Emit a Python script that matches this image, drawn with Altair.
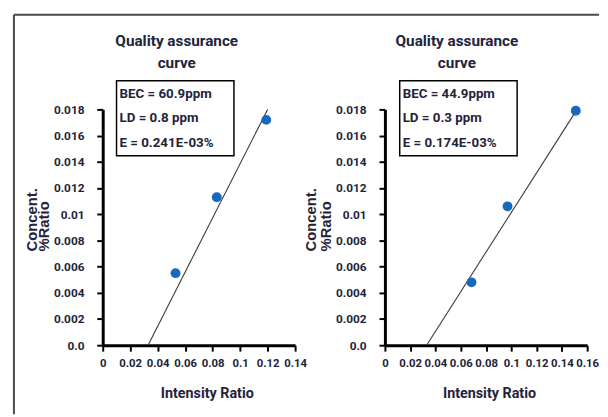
import altair as alt
import pandas as pd

# ---- data ----
left_x = [0.053, 0.083, 0.119]
left_y = [0.0055, 0.0113, 0.0172]
left_fit_x = [0.033, 0.120]
left_fit_y = [0.0, 0.018]

right_x = [0.0685, 0.097, 0.151]
right_y = [0.0048, 0.0106, 0.0179]
right_fit_x = [0.033, 0.152]
right_fit_y = [0.0, 0.018]

y_ticks = [0.0, 0.002, 0.004, 0.006, 0.008, 0.010, 0.012, 0.014, 0.016, 0.018]
left_x_ticks = [0.0, 0.02, 0.04, 0.06, 0.08, 0.10, 0.12, 0.14]
right_x_ticks = [0.0, 0.02, 0.04, 0.06, 0.08, 0.10, 0.12, 0.14, 0.16]

title_lines = ["Quality assurance", "curve"]
left_box = ["BEC = 60.9ppm", "LD = 0.8 ppm", "E = 0.241E-03%"]
right_box = ["BEC = 44.9ppm", "LD = 0.3 ppm", "E = 0.174E-03%"]
y_title = ["Concent.", "%Ratio"]
x_title = "Intensity Ratio"

# ---- styling ----
COND = "Roboto, Liberation Sans, sans-serif"
REG = "Liberation Sans, Arial, sans-serif"
TXT = "#23233a"
W, H = 491, 239

one = pd.DataFrame({"a": [0]})


def panel(px, py, fx, fy, xdom, xrange, xticks, yoff):
    xs = alt.Scale(domain=xdom, range=xrange, nice=False, zero=False)
    ys = alt.Scale(domain=[0, 0.018], nice=False)
    xaxis = alt.Axis(orient="bottom", values=xticks, format=".2~f", title=None,
                     grid=False, domainWidth=3, domainColor="black", tickColor="black",
                     tickWidth=2, tickSize=6, labelFont=COND, labelFontWeight="bold",
                     labelFontSize=11.5, labelColor=TXT, labelPadding=7, labelFlush=False,
                     labelOverlap=False)
    yaxis = alt.Axis(orient="left", values=y_ticks, title=None, offset=yoff,
                     labelExpr="datum.value == 0 ? '0.0' : format(datum.value, '.3~f')",
                     grid=False, domainWidth=3, domainColor="black", tickColor="black",
                     tickWidth=2, tickSize=6, labelFont=COND, labelFontWeight="bold",
                     labelFontSize=12, labelColor=TXT, labelPadding=13, labelFlush=False,
                     labelOverlap=False)
    fit = alt.Chart(pd.DataFrame({"x": fx, "y": fy})).mark_line(
        color="#3a3a3a", strokeWidth=1.1).encode(
        x=alt.X("x:Q", scale=xs, axis=xaxis), y=alt.Y("y:Q", scale=ys, axis=yaxis))
    pts = alt.Chart(pd.DataFrame({"x": px, "y": py})).mark_circle(
        size=100, color="#1769c0", opacity=1).encode(
        x=alt.X("x:Q", scale=xs, axis=xaxis), y=alt.Y("y:Q", scale=ys, axis=yaxis))
    return alt.layer(fit, pts)


def text(t, x, y, font=COND, size=15, align="left", baseline="middle", angle=0):
    kw = dict(text=t, font=font, fontSize=size, fontWeight="bold", color=TXT,
              align=align, baseline=baseline)
    if angle:
        kw["angle"] = angle
    return alt.Chart(one).mark_text(**kw).encode(x=alt.value(x), y=alt.value(y))


left = panel(left_x, left_y, left_fit_x, left_fit_y, [0, 0.14], [0, 195], left_x_ticks, 0)
right = panel(right_x, right_y, right_fit_x, right_fit_y, [0, 0.16], [286, 491], right_x_ticks, -286)

deco = []
# outer frame
deco.append(alt.Chart(one).mark_rule(color="#4a4a4a", strokeWidth=2).encode(
    x=alt.value(-90), y=alt.value(-96), y2=alt.value(309)))
deco.append(alt.Chart(one).mark_rule(color="#4a4a4a", strokeWidth=2).encode(
    x=alt.value(-90), x2=alt.value(503), y=alt.value(-96)))

for cx, bx, box, yt in [(75, 14, left_box, (-72, -59)), (359, 301, right_box, (211, 226))]:
    deco.append(text(title_lines[0], cx, -69, size=15.5, align="center"))
    deco.append(text(title_lines[1], cx, -47, size=15.5, align="center"))
    deco.append(alt.Chart(one).mark_rect(fillOpacity=0, stroke="black", strokeWidth=1.5).encode(
        x=alt.value(bx), x2=alt.value(bx + 119), y=alt.value(-29), y2=alt.value(47)))
    for i, line in enumerate(box):
        deco.append(text(line, bx + 3, -16 + 25 * i, size=13.5))
    deco.append(text(y_title[0], yt[0], 144, font=REG, size=15, angle=270))
    deco.append(text(y_title[1], yt[1], 144, font=REG, size=15, angle=270))

deco.append(text(x_title, 106, 289, size=14.5, align="center"))
deco.append(text(x_title, 392, 289, size=14.5, align="center"))

chart = alt.layer(left, right, *deco).resolve_scale(
    x="independent", y="independent").properties(
    width=W, height=H,
    padding={"left": 5, "top": 3, "right": 0, "bottom": 0},
    background="white").configure_view(strokeWidth=0)

chart.save("out.html", embed_options={"renderer": "svg", "actions": False})
